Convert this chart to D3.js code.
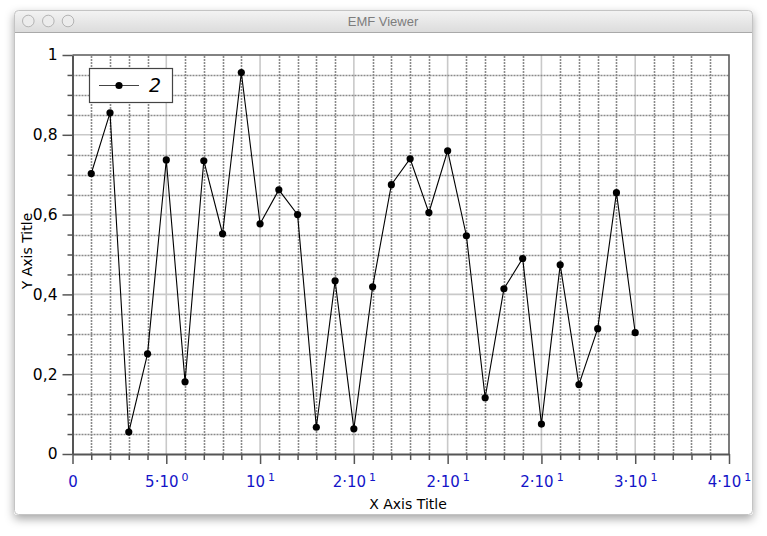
<!DOCTYPE html>
<html>
<head>
<meta charset="utf-8">
<script src="https://cdnjs.cloudflare.com/ajax/libs/d3/7.8.5/d3.min.js"></script>
<style>
  html, body { margin: 0; padding: 0; background: #ffffff; }
  svg { display: block; }
</style>
</head>
<body>
<svg id="chart" width="767" height="536"></svg>
<script>
// ---------- data ----------
const xValues = [1,2,3,4,5,6,7,8,9,10,11,12,13,14,15,16,17,18,19,20,21,22,23,24,25,26,27,28,29,30];
const yValues = [0.703,0.855,0.055,0.251,0.737,0.181,0.735,0.552,0.956,0.577,0.662,0.600,0.067,0.434,0.063,
                 0.419,0.675,0.740,0.605,0.760,0.547,0.141,0.414,0.490,0.075,0.474,0.174,0.314,0.655,0.304];
const seriesName = "2";
const xMajorTicks = [0,5,10,15,20,25,30,35];
const xTickMantissa = ["0","5·10","10","2·10","2·10","2·10","3·10","4·10"];
const xTickExponent = ["","0","1","1","1","1","1","1"];
const yMajorTicks = [0,0.2,0.4,0.6,0.8,1];
const yTickLabels = ["0","0,2","0,4","0,6","0,8","1"];
const xTitle = "X Axis Title";
const yTitle = "Y Axis Title";
const windowTitle = "EMF Viewer";

// ---------- setup ----------
const svg = d3.select("#chart");
const defs = svg.append("defs");
const shadow = defs.append("filter").attr("id","shadow").attr("x","-10%").attr("y","-10%").attr("width","120%").attr("height","125%");
shadow.append("feDropShadow").attr("dx",0).attr("dy",4).attr("stdDeviation",5).attr("flood-color","#000").attr("flood-opacity",0.35);
const tbGrad = defs.append("linearGradient").attr("id","tb").attr("x1",0).attr("y1",0).attr("x2",0).attr("y2",1);
tbGrad.append("stop").attr("offset","0%").attr("stop-color","#f4f4f4");
tbGrad.append("stop").attr("offset","100%").attr("stop-color","#dcdcdc");

// window
const W = {x: 14, y: 10, w: 739, h: 505};
svg.append("rect").attr("x",W.x).attr("y",W.y).attr("width",W.w).attr("height",W.h)
  .attr("rx",4).attr("fill","#ffffff").attr("filter","url(#shadow)");
svg.append("path")
  .attr("d",`M${W.x},${W.y+22} L${W.x},${W.y+4} Q${W.x},${W.y} ${W.x+4},${W.y} L${W.x+W.w-4},${W.y} Q${W.x+W.w},${W.y} ${W.x+W.w},${W.y+4} L${W.x+W.w},${W.y+22} Z`)
  .attr("fill","url(#tb)");
svg.append("line").attr("x1",W.x).attr("x2",W.x+W.w).attr("y1",W.y+22.5).attr("y2",W.y+22.5).attr("stroke","#a9a9a9");
svg.append("rect").attr("x",W.x+0.5).attr("y",W.y+0.5).attr("width",W.w-1).attr("height",W.h-1)
  .attr("rx",4).attr("fill","none").attr("stroke","#c4c4c4");
[28.3,48.3,68].forEach(cx => {
  svg.append("circle").attr("cx",cx).attr("cy",21).attr("r",5.8)
    .attr("fill","#ececec").attr("stroke","#b4b4b4").attr("stroke-width",1);
});
svg.append("text").attr("x",383).attr("y",25.5).attr("text-anchor","middle")
  .attr("font-family","Liberation Sans, Arial, sans-serif").attr("font-size",13)
  .attr("fill","#7d7d7d").text(windowTitle);

// ---------- scales ----------
const x = d3.scaleLinear().domain([0,35]).range([72.5,729]);
const y = d3.scaleLinear().domain([0,1]).range([454,55]);

const xMinor = d3.range(1,35).filter(v => v % 5 !== 0);
const yMinor = d3.range(1,20).map(i => +(i*0.05).toFixed(2)).filter(v => Math.abs(v/0.2 - Math.round(v/0.2)) > 1e-6);
const xMajorInner = xMajorTicks.filter(v => v > 0 && v < 35);
const yMajorInner = yMajorTicks.filter(v => v > 0 && v < 1);

const plot = svg.append("g");

// major grid (solid light)
plot.selectAll(".gxM").data(xMajorInner).join("line")
  .attr("x1",d=>x(d)).attr("x2",d=>x(d)).attr("y1",y(0)).attr("y2",y(1))
  .attr("stroke","#c9c9c9").attr("stroke-width",1.6);
plot.selectAll(".gyM").data(yMajorInner).join("line")
  .attr("x1",x(0)).attr("x2",x(35)).attr("y1",d=>y(d)).attr("y2",d=>y(d))
  .attr("stroke","#c9c9c9").attr("stroke-width",1.6);
// minor grid (dashed dark)
plot.selectAll(".gxm").data(xMinor).join("line")
  .attr("x1",d=>Math.round(x(d))+0.5).attr("x2",d=>Math.round(x(d))+0.5).attr("y1",y(0)).attr("y2",y(1))
  .attr("stroke","#8a8a8a").attr("stroke-width",1.6).attr("stroke-dasharray","2,1");
plot.selectAll(".gym").data(yMinor).join("line")
  .attr("x1",x(0)).attr("x2",x(35)).attr("y1",d=>Math.round(y(d))+0.5).attr("y2",d=>Math.round(y(d))+0.5)
  .attr("stroke","#8a8a8a").attr("stroke-width",1.6).attr("stroke-dasharray","2,1");

// frame (top, right)
plot.append("path")
  .attr("d",`M${x(0)},${y(1)} L${x(35)},${y(1)} L${x(35)},${y(0)}`)
  .attr("fill","none").attr("stroke","#5a5a5a").attr("stroke-width",1.6);

// ---------- axes ----------
const tickFont = "DejaVu Sans, Verdana, sans-serif";
// x minor ticks
svg.append("g").attr("transform",`translate(0,${y(0)})`)
  .call(d3.axisBottom(x).tickValues(xMinor).tickSize(6).tickFormat(""))
  .call(g => { g.select(".domain").remove(); g.selectAll("line").attr("stroke","#555").attr("stroke-width",1.5); });
// x major
const xAxisG = svg.append("g").attr("transform",`translate(0,${y(0)})`)
  .call(d3.axisBottom(x).tickValues(xMajorTicks).tickSize(10).tickPadding(14).tickSizeOuter(0).tickFormat(""));
xAxisG.select(".domain").attr("stroke","#555").attr("stroke-width",2);
xAxisG.selectAll("line").attr("stroke","#555").attr("stroke-width",1.5);
xAxisG.selectAll(".tick text").each(function(d){
  const i = xMajorTicks.indexOf(d);
  const t = d3.select(this).attr("font-family",tickFont).attr("font-size",15).attr("fill","#1414c8")
    .attr("text-anchor","middle").attr("dy",0).attr("y",33);
  t.append("tspan").text(xTickMantissa[i]);
  if (xTickExponent[i]) {
    t.append("tspan").attr("font-size",11).attr("dx",3).attr("dy",-6).text(xTickExponent[i]);
  }
});

// y minor ticks
svg.append("g").attr("transform",`translate(${x(0)},0)`)
  .call(d3.axisLeft(y).tickValues(yMinor).tickSize(5).tickFormat(""))
  .call(g => { g.select(".domain").remove(); g.selectAll("line").attr("stroke","#555").attr("stroke-width",1.5); });
// y major
const yAxisG = svg.append("g").attr("transform",`translate(${x(0)},0)`)
  .call(d3.axisLeft(y).tickValues(yMajorTicks).tickSize(10).tickPadding(5).tickSizeOuter(0)
    .tickFormat((d,i) => yTickLabels[i]));
yAxisG.select(".domain").attr("stroke","#555").attr("stroke-width",2);
yAxisG.selectAll("line").attr("stroke","#555").attr("stroke-width",1.5);
yAxisG.selectAll("text").attr("font-family",tickFont).attr("font-size",15.5).attr("fill","#000");

// titles
svg.append("text").attr("x",408).attr("y",509).attr("text-anchor","middle")
  .attr("font-family",tickFont).attr("font-size",14).attr("fill","#000").text(xTitle);
svg.append("text").attr("transform","translate(32,251) rotate(-90)").attr("text-anchor","middle")
  .attr("font-family",tickFont).attr("font-size",14).attr("fill","#000").text(yTitle);

// ---------- series ----------
const data = xValues.map((v,i) => ({x: v, y: yValues[i]}));
svg.append("path").datum(data)
  .attr("d", d3.line().x(d=>x(d.x)).y(d=>y(d.y)))
  .attr("fill","none").attr("stroke","#000").attr("stroke-width",1.1);
svg.selectAll(".pt").data(data).join("circle")
  .attr("cx",d=>x(d.x)).attr("cy",d=>y(d.y)).attr("r",3.6).attr("fill","#000");

// ---------- legend ----------
const lg = svg.append("g");
lg.append("rect").attr("x",89.5).attr("y",68.5).attr("width",83).attr("height",34)
  .attr("fill","#fff").attr("stroke","#444").attr("stroke-width",1.2);
lg.append("line").attr("x1",99).attr("x2",139).attr("y1",85.5).attr("y2",85.5).attr("stroke","#444").attr("stroke-width",1.2);
lg.append("circle").attr("cx",119).attr("cy",85.5).attr("r",3.6).attr("fill","#000");
lg.append("text").attr("x",149).attr("y",92).attr("font-family",tickFont).attr("font-size",19)
  .attr("font-style","italic").attr("fill","#000").text(seriesName);
</script>
</body>
</html>
